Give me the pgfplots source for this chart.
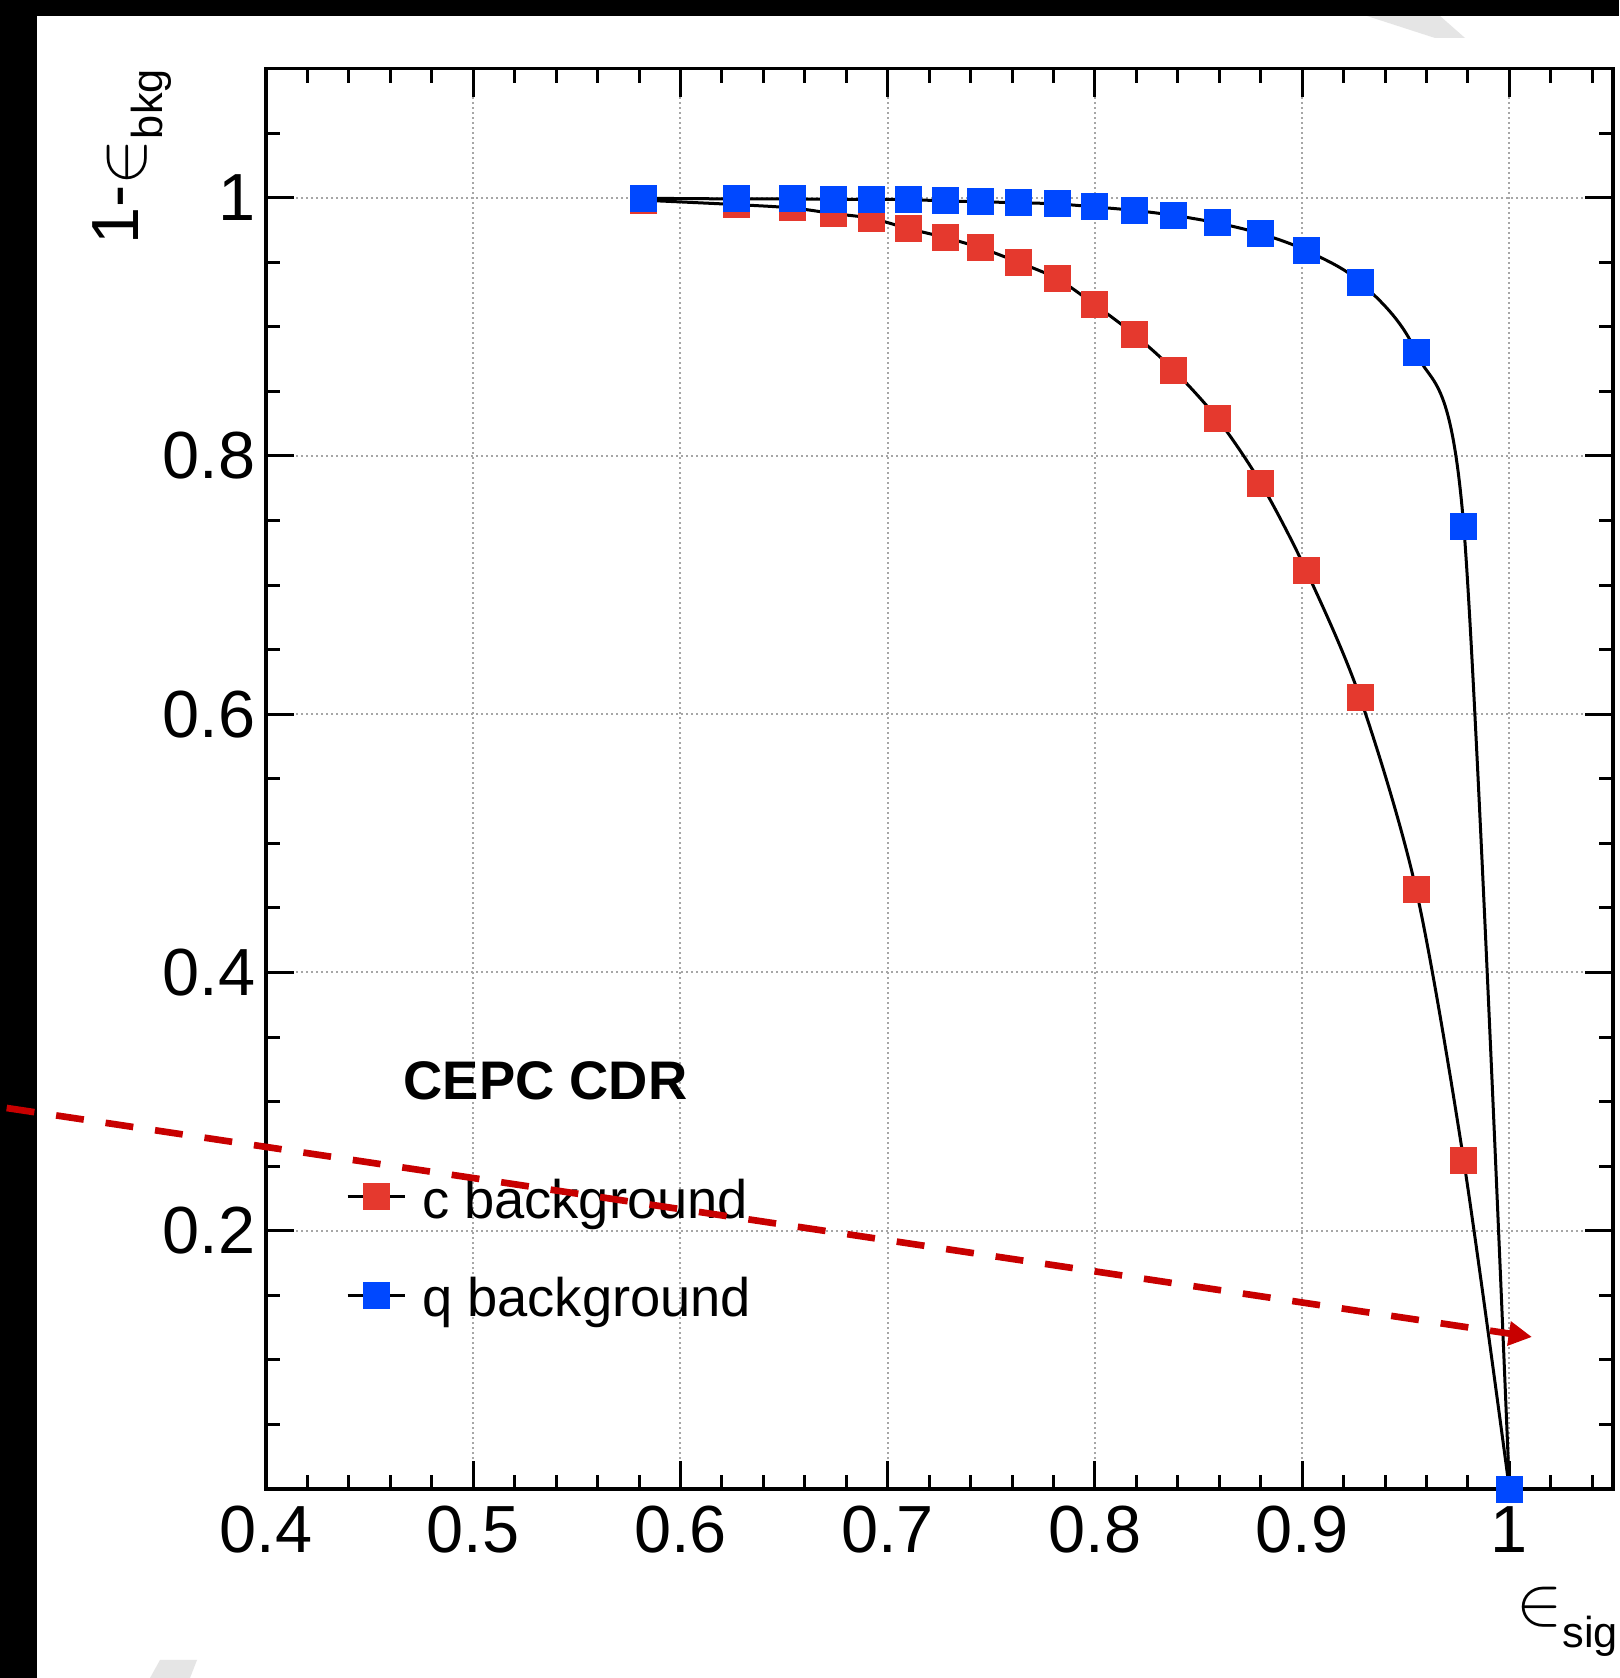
\documentclass[border=0pt]{standalone}
\usepackage{fontspec}
\setmainfont{Liberation Sans}
\usepackage{pgfplots}
\pgfplotsset{compat=1.18}
\usetikzlibrary{arrows.meta}
\definecolor{rootred}{RGB}{229,57,46}
\definecolor{rootblue}{RGB}{0,72,255}
\definecolor{arrowred}{RGB}{200,0,0}
\begin{document}
\begin{tikzpicture}
\fill[white] (0,0) rectangle (485.7pt,503.4pt);
\useasboundingbox (0,0) rectangle (485.7pt,503.4pt);
% faint watermark fragments
\fill[black!10] (410.1pt,498.6pt) -- (432pt,498.6pt) -- (439.5pt,492pt) -- (430.5pt,492pt) -- cycle;
\fill[black!10] (48pt,5.4pt) -- (59.1pt,5.4pt) -- (57pt,0pt) -- (45pt,0pt) -- cycle;
% black frame bands
\fill[black] (0,0) rectangle (11.1pt,503.4pt);
\fill[black] (0,498.6pt) rectangle (485.7pt,503.4pt);
\begin{axis}[
  scale only axis,
  width=404.1pt, height=426.15pt,
  at={(79.8pt,56.7pt)}, anchor=south west,
  xmin=0.4, xmax=1.05, ymin=0, ymax=1.1,
  xtick={0.4,0.5,0.6,0.7,0.8,0.9,1},
  minor xtick={0.42,0.44,0.46,0.48,0.52,0.54,0.56,0.58,0.62,0.64,0.66,0.68,0.72,0.74,0.76,0.78,0.82,0.84,0.86,0.88,0.92,0.94,0.96,0.98,1.02,1.04},
  ytick={0.2,0.4,0.6,0.8,1},
  minor ytick={0.05,0.1,0.15,0.25,0.3,0.35,0.45,0.5,0.55,0.65,0.7,0.75,0.85,0.9,0.95,1.05},
  tick align=inside,
  major tick length=8.5pt, minor tick length=4.3pt,
  tick style={black, line width=0.9pt},
  axis line style={line width=1.1pt},
  xmajorgrids, ymajorgrids,
  major grid style={gray!70, line width=0.6pt, dash pattern=on 0.6pt off 0.9pt},
  /pgf/number format/assume math mode=true,
  tick label style={font=\fontsize{20}{24}\selectfont},
  yticklabel style={inner xsep=3pt},
  xticklabel style={inner ysep=5pt},
  legend style={at={(axis description cs:0.0594,0.2189)}, anchor=north west,
    draw=none, fill=none, inner sep=0pt, outer sep=0pt,
    font=\fontsize{16.3}{19}\selectfont,
    row sep=14pt, column sep=4.8pt,
    nodes={inner sep=0pt, text height=12pt, text depth=3.5pt}},
  legend cell align=left,
  legend image code/.code={\draw[#1, mark repeat=2, mark phase=2] plot coordinates {(0pt,2.1pt) (8.55pt,2.1pt) (17.1pt,2.1pt)};},
]
\addplot[black, line width=0.9pt, smooth, mark=square*, mark size=3.9pt,
  mark options={solid, fill=rootred, draw=rootred, line width=0.3pt}]
coordinates {
(0.582,0.998) (0.627,0.9946) (0.654,0.992) (0.674,0.9876) (0.692,0.984)
(0.710,0.976) (0.728,0.969) (0.745,0.961) (0.763,0.950) (0.782,0.937)
(0.800,0.917) (0.819,0.894) (0.838,0.8665) (0.859,0.829) (0.880,0.779)
(0.902,0.711) (0.928,0.6126) (0.955,0.464) (0.978,0.254) (1.0,0.0)
};
\addlegendentry{c background}
\addplot[black, line width=0.9pt, smooth, mark=square*, mark size=3.9pt,
  mark options={solid, fill=rootblue, draw=rootblue, line width=0.3pt}]
coordinates {
(0.582,0.9995) (0.627,0.999) (0.654,0.999) (0.674,0.9987) (0.692,0.9987)
(0.710,0.9984) (0.728,0.9975) (0.745,0.9967) (0.763,0.9961) (0.782,0.9951)
(0.800,0.9928) (0.819,0.9901) (0.838,0.9863) (0.859,0.9804) (0.880,0.9721)
(0.902,0.959) (0.928,0.9346) (0.955,0.880) (0.978,0.745) (1.0,0.0)
};
\addlegendentry{q background}
\end{axis}
\node[anchor=base west, inner sep=0pt, font=\bfseries\fontsize{16.3}{19}\selectfont] at (120.9pt,173.4pt) {CEPC CDR};
\node[rotate=90, anchor=base east, inner sep=0pt] at (41.4pt,482.85pt)
  {{\fontsize{20}{24}\selectfont 1-}\raisebox{-2pt}{\fontsize{20}{24}\selectfont$\mathord{\in}$}\raisebox{-7.2pt}{\fontsize{13}{15}\selectfont bkg}};
\node[anchor=base east, inner sep=0pt] at (485.6pt,18pt)
  {\raisebox{-2pt}{\fontsize{20.5}{24}\selectfont$\mathord{\in}$}\raisebox{-8.7pt}{\fontsize{13}{15}\selectfont sig}};
\draw[arrowred, line width=2pt, dash pattern=on 8.4pt off 6.6pt, -{Triangle[length=7pt,width=7pt]}] (2pt,171pt) -- (459.6pt,102.3pt);
\end{tikzpicture}
\end{document}
